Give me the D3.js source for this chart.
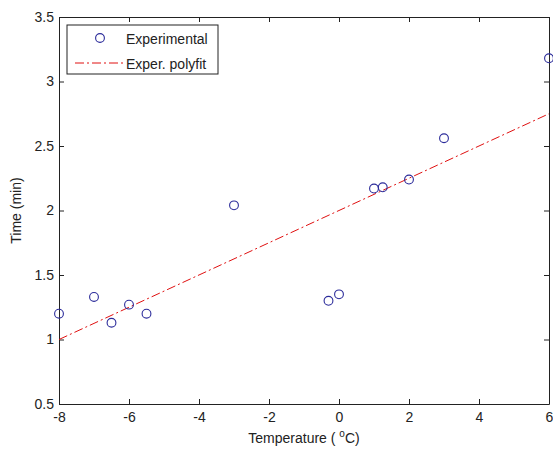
<!DOCTYPE html>
<html>
<head>
<meta charset="utf-8">
<script src="https://cdn.jsdelivr.net/npm/d3@7"></script>
<style>
  body { margin: 0; background: #fff; }
  text { font-family: "Liberation Sans", Arial, sans-serif; }
</style>
</head>
<body>
<script>
// measured points
const tempX = [-8, -7, -6.5, -6, -5.5, -3, -0.3, 0, 1, 1.25, 2, 3, 6]
const timeY = [1.2, 1.33, 1.13, 1.27, 1.2, 2.04, 1.3, 1.35, 2.17, 2.18, 2.24, 2.56, 3.18]
// polyfit line end points
const fitX = [-8, 6]
const fitY = [1.0, 2.75]
const xTicks = [-8, -6, -4, -2, 0, 2, 4, 6]
const yTicks = [0.5, 1, 1.5, 2, 2.5, 3, 3.5]

const width = 553, height = 450
const margin = {top: 17, right: 4, bottom: 46, left: 59}
const w = width - margin.left - margin.right
const h = height - margin.top - margin.bottom

const svg = d3.select('body').append('svg')
  .attr('width', width)
  .attr('height', height)

const g = svg.append('g')
  .attr('transform', 'translate(' + margin.left + ',' + margin.top + ')')

const x = d3.scaleLinear().domain([-8, 6]).range([0, w])
const y = d3.scaleLinear().domain([0.5, 3.5]).range([h, 0])

// axes, ticks pointing inwards like matlab
const fmt = d => String(d)
g.append('g').attr('transform', 'translate(0,' + h + ')')
  .call(d3.axisBottom(x).tickValues(xTicks).tickFormat(fmt).tickSizeInner(-5).tickSizeOuter(0).tickPadding(8))
g.append('g')
  .call(d3.axisTop(x).tickValues(xTicks).tickFormat('').tickSizeInner(-5).tickSizeOuter(0))
g.append('g')
  .call(d3.axisLeft(y).tickValues(yTicks).tickFormat(fmt).tickSizeInner(-5).tickSizeOuter(0).tickPadding(5))
g.append('g').attr('transform', 'translate(' + w + ',0)')
  .call(d3.axisRight(y).tickValues(yTicks).tickFormat('').tickSizeInner(-5).tickSizeOuter(0))

g.selectAll('.domain').attr('stroke', '#222')
g.selectAll('.tick line').attr('stroke', '#222')
g.selectAll('.tick text').attr('font-size', 14).attr('fill', '#222')
  .attr('font-family', '"Liberation Sans", Arial, sans-serif')

// fit line
const line = d3.line().x(d => x(d[0])).y(d => y(d[1]))
g.append('path')
  .datum(d3.zip(fitX, fitY))
  .attr('d', line)
  .attr('fill', 'none')
  .attr('stroke', '#e01010')
  .attr('stroke-width', 1)
  .attr('stroke-dasharray', '9,3,2,3')

// points
g.selectAll('circle.pt')
  .data(d3.zip(tempX, timeY))
  .enter()
  .append('circle')
  .attr('class', 'pt')
  .attr('cx', d => x(d[0]))
  .attr('cy', d => y(d[1]))
  .attr('r', 4.4)
  .attr('fill', 'none')
  .attr('stroke', '#2b2b9a')
  .attr('stroke-width', 1.1)

// axis labels
svg.append('text')
  .attr('x', margin.left + w / 2)
  .attr('y', 443)
  .attr('text-anchor', 'middle')
  .attr('font-size', 14)
  .attr('fill', '#222')
  .call(t => {
    t.append('tspan').text('Temperature ( ')
    t.append('tspan').attr('dy', -6).attr('font-size', 10).text('o')
    t.append('tspan').attr('dy', 6).text('C)')
  })

svg.append('text')
  .attr('transform', 'translate(21,' + (margin.top + h / 2) + ') rotate(-90)')
  .attr('text-anchor', 'middle')
  .attr('font-size', 14)
  .attr('fill', '#222')
  .text('Time (min)')

// legend
const leg = svg.append('g').attr('transform', 'translate(67,25)')
leg.append('rect')
  .attr('width', 151).attr('height', 49)
  .attr('fill', '#fff').attr('stroke', '#222')
leg.append('circle')
  .attr('cx', 33).attr('cy', 13).attr('r', 4.4)
  .attr('fill', 'none').attr('stroke', '#2b2b9a').attr('stroke-width', 1.1)
leg.append('line')
  .attr('x1', 8).attr('x2', 56).attr('y1', 38).attr('y2', 38)
  .attr('stroke', '#e01010').attr('stroke-dasharray', '9,3,2,3')
leg.append('text').attr('x', 59).attr('y', 19).attr('font-size', 14).attr('fill', '#222').text('Experimental')
leg.append('text').attr('x', 59).attr('y', 44).attr('font-size', 14).attr('fill', '#222').text('Exper. polyfit')
</script>
</body>
</html>
